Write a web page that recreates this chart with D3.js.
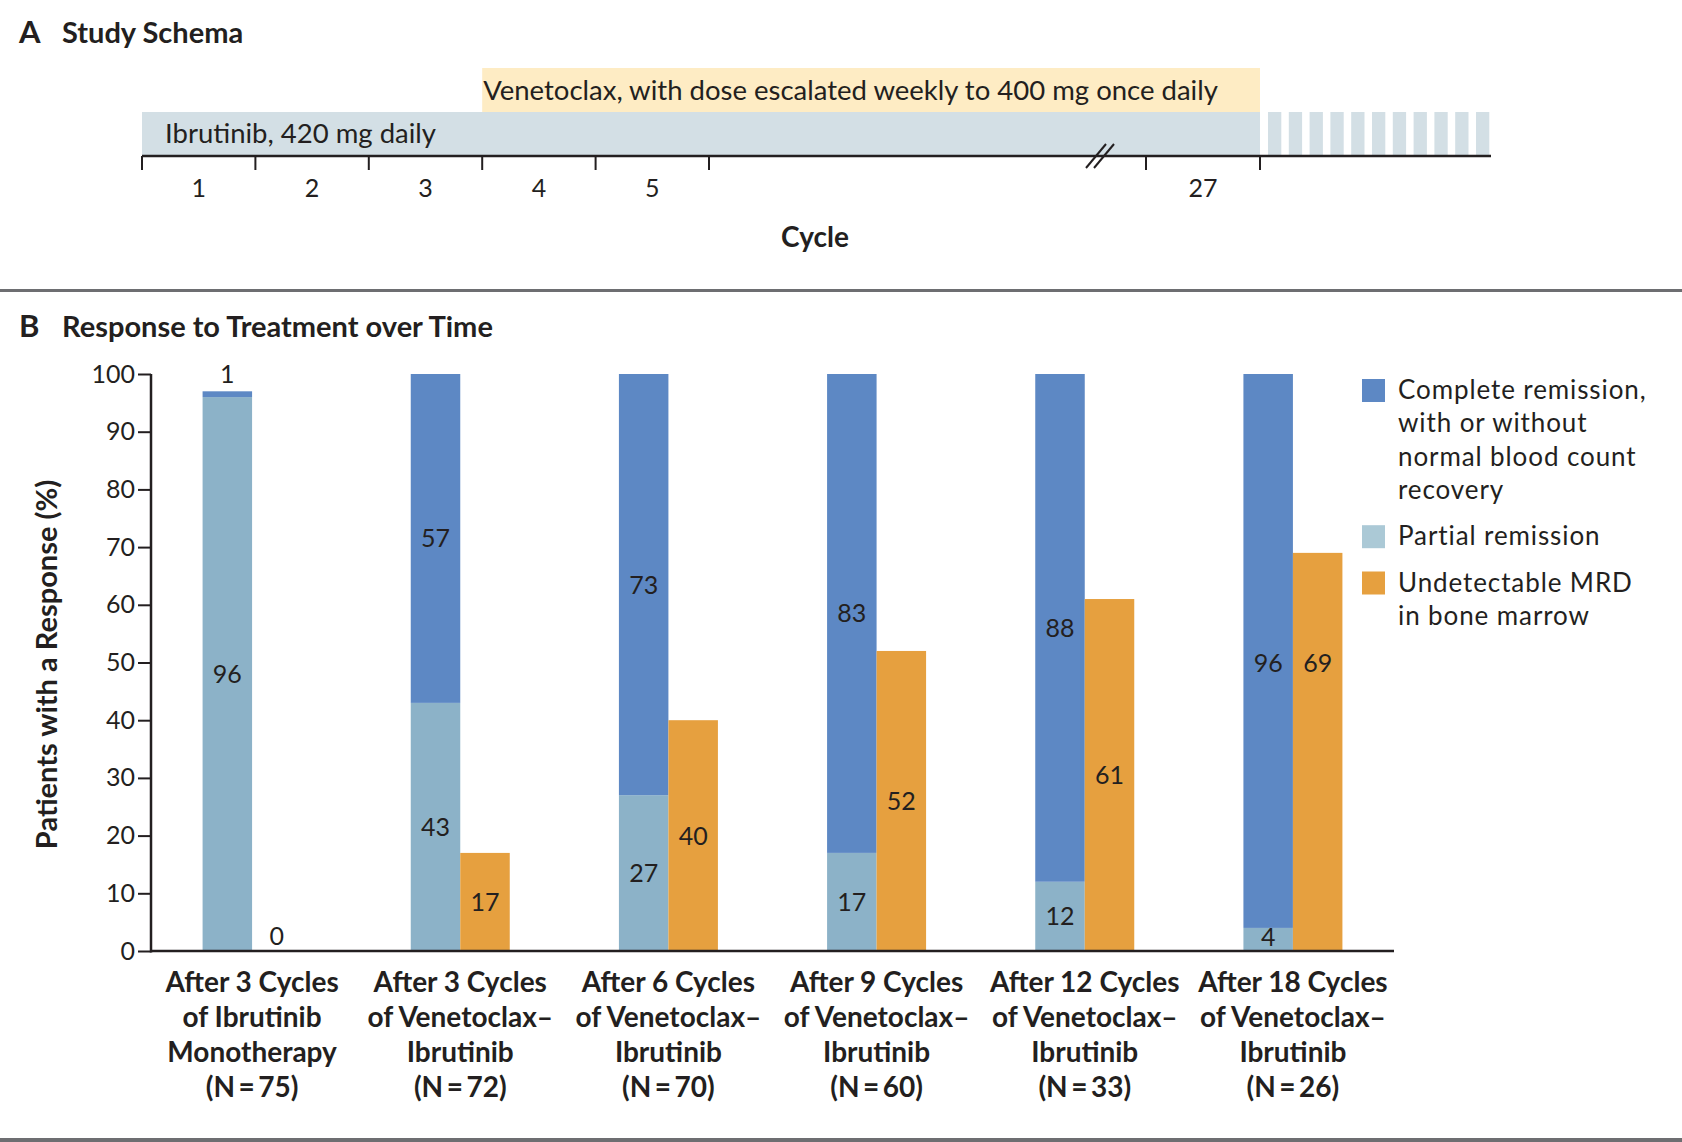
<!DOCTYPE html>
<html>
<head>
<meta charset="utf-8">
<script src="https://cdn.jsdelivr.net/npm/d3@7"></script>
<style>
  body { margin: 0; background: #fff; }
  svg text { fill: #231f20; }
  .light { font-family: "Lato", sans-serif; }
  .bold { font-family: "Lato", sans-serif; font-weight: bold; }
  .head { font-family: "Lato", sans-serif; font-weight: bold; }
</style>
</head>
<body>
<div id="chart"></div>
<script>
// schema
const cycleTicks = [0, 1, 2, 3, 4, 5, 26, 27];
const cycleLabels = [[0.5, "1"], [1.5, "2"], [2.5, "3"], [3.5, "4"], [4.5, "5"], [26.5, "27"]];
const venetoclaxStart = 3, treatmentEnd = 27;
const stripeCount = 11;

// response chart
const categoryLines = [
  ["After 3 Cycles", "of Ibrutinib", "Monotherapy", "(N\u2009=\u200975)"],
  ["After 3 Cycles", "of Venetoclax\u2013", "Ibrutinib", "(N\u2009=\u200972)"],
  ["After 6 Cycles", "of Venetoclax\u2013", "Ibrutinib", "(N\u2009=\u200970)"],
  ["After 9 Cycles", "of Venetoclax\u2013", "Ibrutinib", "(N\u2009=\u200960)"],
  ["After 12 Cycles", "of Venetoclax\u2013", "Ibrutinib", "(N\u2009=\u200933)"],
  ["After 18 Cycles", "of Venetoclax\u2013", "Ibrutinib", "(N\u2009=\u200926)"]
];
const partial = [96, 43, 27, 17, 12, 4];
const complete = [1, 57, 73, 83, 88, 96];
const mrd = [0, 17, 40, 52, 61, 69];
const yTicks = [0, 10, 20, 30, 40, 50, 60, 70, 80, 90, 100];
const legendItems = [
  { lines: ["Complete remission,", "with or without", "normal blood count", "recovery"], color: "#5d88c4" },
  { lines: ["Partial remission"], color: "#abc9d6" },
  { lines: ["Undetectable MRD", "in bone marrow"], color: "#e6a03f" }
];

const W = 1682, H = 1142;
const cCR = "#5d88c4", cPR = "#8cb2c8", cMRD = "#e6a03f";

const svg = d3.select("#chart").append("svg")
  .attr("width", W).attr("height", H);

// ---------- Panel A ----------
svg.append("text").attr("class", "head").attr("x", 19).attr("y", 43)
  .style("font-size", "31px").text("A");
svg.append("text").attr("class", "head").attr("x", 62).attr("y", 43)
  .style("font-size", "29px").text("Study Schema");

const cx = d3.scaleLinear().domain([0, 5, 26, 27]).range([142, 709, 1146, 1260]);
const axisY = 156;

svg.append("rect")
  .attr("x", cx(venetoclaxStart)).attr("y", 68)
  .attr("width", cx(treatmentEnd) - cx(venetoclaxStart)).attr("height", 44)
  .attr("fill", "#feecc4");
svg.append("rect")
  .attr("x", cx(0)).attr("y", 112)
  .attr("width", cx(treatmentEnd) - cx(0)).attr("height", axisY - 112)
  .attr("fill", "#d3dfe5");

const stripeStep = 20.8;
svg.selectAll("rect.stripe").data(d3.range(stripeCount)).enter()
  .append("rect").attr("class", "stripe")
  .attr("x", i => cx(treatmentEnd) + 8 + i * stripeStep)
  .attr("y", 112).attr("width", 13.3).attr("height", axisY - 112)
  .attr("fill", "#d3dfe5");

svg.append("text").attr("class", "light")
  .attr("x", cx(venetoclaxStart) + 1).attr("y", 100)
  .style("font-size", "27.5px").text("Venetoclax, with dose escalated weekly to 400 mg once daily");
svg.append("text").attr("class", "light")
  .attr("x", 165).attr("y", 143)
  .style("font-size", "27.5px").text("Ibrutinib, 420 mg daily");

svg.append("line").attr("x1", cx(0)).attr("x2", 1491)
  .attr("y1", axisY).attr("y2", axisY)
  .attr("stroke", "#231f20").attr("stroke-width", 2.5);
svg.selectAll("line.ctick").data(cycleTicks).enter()
  .append("line").attr("class", "ctick")
  .attr("x1", d => cx(d)).attr("x2", d => cx(d))
  .attr("y1", axisY).attr("y2", axisY + 14)
  .attr("stroke", "#231f20").attr("stroke-width", 2);
svg.selectAll("text.clab").data(cycleLabels).enter()
  .append("text").attr("class", "clab light")
  .attr("x", d => cx(d[0])).attr("y", 197)
  .attr("text-anchor", "middle").style("font-size", "25px")
  .text(d => d[1]);

// axis break mark
[0, 8].forEach(off => {
  svg.append("line")
    .attr("x1", 1086 + off).attr("y1", 168)
    .attr("x2", 1106 + off).attr("y2", 144)
    .attr("stroke", "#231f20").attr("stroke-width", 2);
});

svg.append("text").attr("class", "bold")
  .attr("x", 815).attr("y", 247).attr("text-anchor", "middle")
  .style("font-size", "28px").text("Cycle");

svg.append("rect").attr("x", 0).attr("y", 289).attr("width", W).attr("height", 3)
  .attr("fill", "#6d6e71");
svg.append("rect").attr("x", 0).attr("y", 1138).attr("width", W).attr("height", 4)
  .attr("fill", "#6d6e71");

// ---------- Panel B ----------
svg.append("text").attr("class", "head").attr("x", 19).attr("y", 337)
  .style("font-size", "31px").text("B");
svg.append("text").attr("class", "head").attr("x", 62).attr("y", 337)
  .style("font-size", "29px").text("Response to Treatment over Time");

const y = d3.scaleLinear().domain([0, 100]).range([951, 374]);
const x = d3.scalePoint().domain(d3.range(categoryLines.length))
  .range([148, 1397]).padding(0.5);
const bw = 49.5;

const yAxis = svg.append("g").attr("transform", "translate(151,0)")
  .call(d3.axisLeft(y).tickValues(yTicks).tickSize(13).tickPadding(3));
yAxis.select(".domain").remove();
yAxis.selectAll(".tick line").attr("stroke", "#231f20").attr("stroke-width", 2);
yAxis.selectAll(".tick text").attr("class", "light")
  .style("font-size", "25px").attr("fill", "#231f20");

svg.append("line").attr("x1", 151).attr("x2", 151)
  .attr("y1", y(100)).attr("y2", y(0) + 1.5)
  .attr("stroke", "#231f20").attr("stroke-width", 2.5);

svg.append("text").attr("class", "head")
  .attr("transform", `translate(57,${(y(0) + y(100)) / 2 + 2}) rotate(-90)`)
  .attr("text-anchor", "middle").style("font-size", "29px")
  .text("Patients with a Response (%)");

const groups = svg.selectAll("g.grp").data(d3.range(categoryLines.length)).enter()
  .append("g").attr("class", "grp");

// partial remission (bottom of left bar)
groups.append("rect")
  .attr("x", i => x(i) - bw).attr("width", bw)
  .attr("y", i => y(partial[i])).attr("height", i => y(0) - y(partial[i]))
  .attr("fill", cPR);
// complete remission (stacked on top)
groups.append("rect")
  .attr("x", i => x(i) - bw).attr("width", bw)
  .attr("y", i => y(partial[i] + complete[i]))
  .attr("height", i => y(partial[i]) - y(partial[i] + complete[i]))
  .attr("fill", cCR);
// undetectable MRD
groups.append("rect")
  .attr("x", i => x(i)).attr("width", bw)
  .attr("y", i => y(mrd[i])).attr("height", i => y(0) - y(mrd[i]))
  .attr("fill", cMRD);

// the last group has both labels set on one common line
const lastGroupLabelLevel = 50;
const last = categoryLines.length - 1;

const fs = 25;
function label(g, xf, yf, tf) {
  g.append("text").attr("class", "light")
    .attr("x", xf).attr("y", i => yf(i) + fs * 0.36)
    .attr("text-anchor", "middle").style("font-size", fs + "px")
    .text(tf);
}
label(groups, i => x(i) - bw / 2, i => y(Math.max(partial[i] / 2, 2.5)), i => partial[i]);
label(groups, i => x(i) - bw / 2,
  i => i === last ? y(lastGroupLabelLevel)
    : complete[i] < 5 ? y(partial[i] + complete[i]) - 17 : y(partial[i] + complete[i] / 2),
  i => complete[i]);
label(groups, i => x(i) + bw / 2,
  i => i === last ? y(lastGroupLabelLevel) : y(Math.max(mrd[i] / 2, 2.6)),
  i => mrd[i]);

svg.append("line").attr("x1", 151).attr("x2", 1394)
  .attr("y1", y(0)).attr("y2", y(0))
  .attr("stroke", "#231f20").attr("stroke-width", 2.5);

// category labels
groups.each(function (i) {
  const t = d3.select(this).append("text").attr("class", "bold")
    .attr("text-anchor", "middle").style("font-size", "28px");
  categoryLines[i].forEach((ln, k) => {
    t.append("tspan").attr("x", x(i)).attr("y", 992 + k * 35).text(ln);
  });
});

// legend
let ly = 379;
legendItems.forEach(item => {
  svg.append("rect").attr("x", 1362).attr("y", ly).attr("width", 23).attr("height", 23)
    .attr("fill", item.color);
  const t = svg.append("text").attr("class", "head")
    .style("font-weight", "normal").style("font-size", "26px").style("letter-spacing", "0.9px");
  item.lines.forEach((ln, k) => {
    t.append("tspan").attr("x", 1398).attr("y", ly + 20 + k * 33.3).text(ln);
  });
  ly += item.lines.length * 33.3 + 13;
});
</script>
</body>
</html>
